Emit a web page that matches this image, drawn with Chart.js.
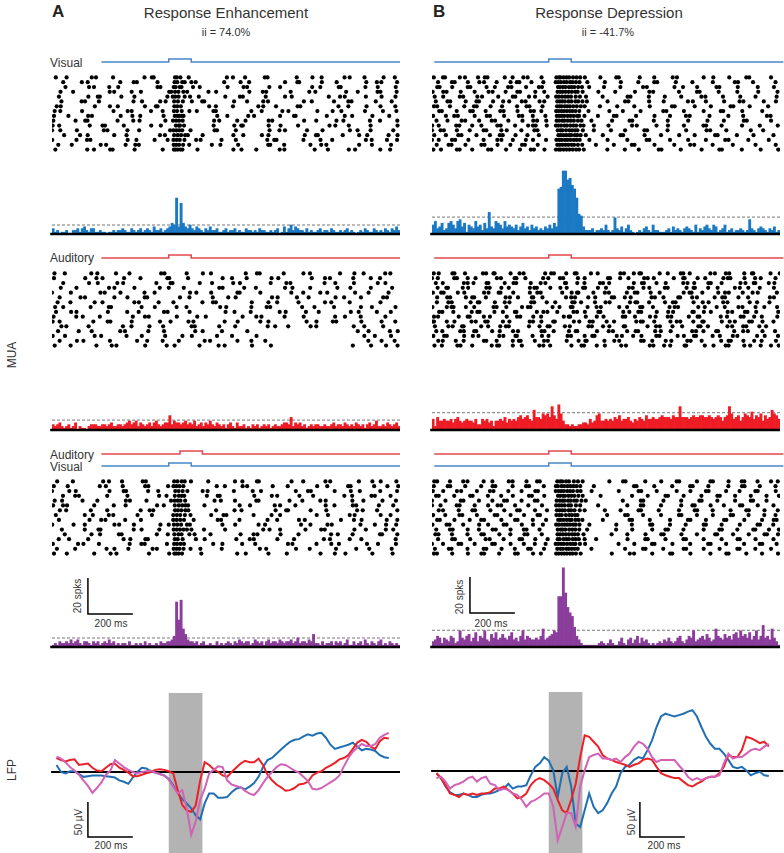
<!DOCTYPE html>
<html>
<head>
<meta charset="utf-8">
<script src="https://cdn.jsdelivr.net/npm/chart.js@4.4.1/dist/chart.umd.min.js"></script>
<style>
  html, body { margin: 0; padding: 0; background: #fff; }
  #fig { position: relative; width: 784px; height: 853px; overflow: hidden;
         font-family: "Liberation Sans", Arial, sans-serif; color: #333; }
  #fig canvas { position: absolute; }
  .t { position: absolute; white-space: nowrap; line-height: 1; }
  .c { transform: translateX(-50%); }
  .r { transform: translate(-50%, -50%) rotate(-90deg); }
</style>
</head>
<body>
<div id="fig">
  <div class="t" style="left:52px;top:3px;font-size:17px;font-weight:bold;color:#222">A</div>
  <div class="t" style="left:433px;top:3px;font-size:17px;font-weight:bold;color:#222">B</div>
  <div class="t c" style="left:226px;top:5px;font-size:15px">Response Enhancement</div>
  <div class="t c" style="left:609px;top:5px;font-size:15px">Response Depression</div>
  <div class="t c" style="left:226px;top:27px;font-size:11px">ii = 74.0%</div>
  <div class="t c" style="left:608px;top:27px;font-size:11px">ii = -41.7%</div>
  <div class="t" style="left:50px;top:57px;font-size:12px">Visual</div>
  <div class="t" style="left:50px;top:252px;font-size:12px">Auditory</div>
  <div class="t" style="left:50px;top:449px;font-size:12px">Auditory</div>
  <div class="t" style="left:50px;top:461px;font-size:12px">Visual</div>
  <div class="t r" style="left:12px;top:355px;font-size:12px">MUA</div>
  <div class="t r" style="left:12px;top:770px;font-size:12px">LFP</div>
  <div class="t r" style="left:78px;top:596px;font-size:10px">20 spks</div>
  <div class="t r" style="left:460px;top:597px;font-size:10px">20 spks</div>
  <div class="t c" style="left:111px;top:619px;font-size:10px">200 ms</div>
  <div class="t c" style="left:491px;top:619px;font-size:10px">200 ms</div>
  <div class="t r" style="left:79px;top:822px;font-size:10px">50 µV</div>
  <div class="t r" style="left:632px;top:822px;font-size:10px">50 µV</div>
  <div class="t c" style="left:111px;top:841px;font-size:10px">200 ms</div>
  <div class="t c" style="left:664px;top:841px;font-size:10px">200 ms</div>
</div>
<script>
// ---------------- data ----------------
// time axis (ms), stimulus onset at 0
const T_MIN = -520, T_MAX = 1030;
const BIN_MS = 10;

const visualStim = [0, 100];
const auditoryStim = [0, 100];
const auditoryStimCombinedA = [50, 150];
const lfpWindow = [0, 150];

// order in which the recorded trials are stacked in each raster (top to bottom)
const trialOrder = [0, 7, 3, 10, 5, 1, 8, 11, 4, 9, 2, 6, 12, 13, 14, 15];

// spike rasters: one string per trial, spike times in ms
const rasterVisualA = [
  '-503 -455 -343 -324 -248 -108 -75 -67 28 36 52 89 259 286 340 428 440 570 640 681 783 806 872 957 1007',
  '-478 -388 -373 -311 -157 -119 -38 -14 24 41 63 103 149 158 291 349 421 442 602 637 736 800 814 922 993',
  '-517 -488 -352 -295 -284 -200 -78 -35 32 45 50 68 200 292 323 330 445 498 576 716 742 802 899 1019',
  '-460 -355 -333 -265 -225 -50 -37 22 31 49 57 108 138 262 333 349 448 496 639 675 757 766 876 931 1011',
  '-511 -447 -359 -342 -214 -162 -127 -23 27 39 48 58 66 216 261 354 380 496 558 565 704 784 817 907 982',
  '-489 -358 -316 -307 -211 -153 -6 18 29 44 71 95 134 252 317 330 432 518 548 713 763 784 878 948 1010',
  '-520 -483 -409 -289 -273 -184 -132 6 21 34 47 60 97 204 215 299 449 493 518 616 685 807 841 899 1000',
  '-470 -387 -361 -216 -156 -142 -50 26 38 60 71 101 120 247 320 358 518 573 581 682 748 880 927 947 1017',
  '-499 -481 -329 -262 -227 -106 -57 -50 25 38 54 180 210 286 399 421 478 574 586 756 800 881 943 1009',
  '-514 -415 -372 -362 -228 -158 -130 -15 19 33 46 62 202 225 305 342 445 461 603 657 747 778 896 941 1018',
  '-482 -426 -263 -243 -165 -124 2 11 28 43 65 82 177 211 359 419 434 543 626 653 790 842 930 943 1015',
  '-508 -483 -386 -246 -183 -165 -79 -27 23 37 58 92 125 199 210 368 414 506 533 662 730 769 874 954 1014',
  '-466 -395 -361 -243 -188 -39 -17 24 40 55 73 85 151 288 332 415 444 606 656 664 775 848 884 979 1019',
  '-519 -411 -364 -349 -183 -144 -63 -5 21 35 49 70 122 142 235 299 439 470 480 600 676 728 878 904 972 1017',
  '-492 -432 -303 -279 -192 -149 -133 22 33 46 64 91 192 230 309 443 452 514 631 679 702 848 905 990',
  '-505 -363 -333 -261 -250 -152 -27 23 30 40 52 61 128 288 324 390 494 515 650 709 802 830 942 986',
];
const rasterVisualB = [
  '-512 -471 -462 -396 -373 -315 -285 -273 -196 -161 -113 -94 -32 34 45 52 66 79 91 108 124 140 161 230 301 312 405 470 552 571 690 733 804 880 893 990',
  '-503 -451 -439 -370 -322 -311 -248 -203 -176 -120 -103 -41 -20 38 49 60 72 88 101 119 131 150 170 262 340 355 447 512 620 642 700 781 850 867 958 1012',
  '-519 -490 -412 -398 -341 -300 -229 -214 -150 -92 -70 -58 -9 32 43 55 70 81 96 110 122 141 155 201 266 371 392 480 531 602 689 701 770 861 940 1020',
  '-497 -486 -430 -361 -349 -277 -240 -181 -166 -101 -44 -30 41 50 63 75 90 102 114 131 148 180 246 319 420 437 560 598 661 747 760 842 931 1003',
  '-515 -458 -421 -405 -330 -276 -262 -199 -133 -118 -71 -15 36 47 58 69 84 97 111 126 135 159 219 290 302 389 471 540 611 628 716 800 866 972 988',
  '-508 -470 -396 -381 -318 -297 -225 -160 -149 -88 -61 -5 33 45 59 73 86 99 120 139 166 240 351 364 446 517 590 680 698 776 853 921 1015',
  '-520 -482 -467 -409 -352 -290 -278 -211 -187 -122 -64 -50 40 52 61 77 92 104 117 128 152 201 277 340 426 438 529 612 703 719 791 900 955',
  '-493 -431 -419 -360 -309 -288 -232 -170 -142 -131 -77 -24 31 42 54 68 80 95 106 121 137 172 250 321 399 470 483 566 640 731 829 843 910 1010',
  '-511 -497 -440 -376 -333 -321 -259 -208 -141 -99 -86 -28 37 48 57 71 82 94 109 125 143 160 228 305 381 450 549 561 650 722 810 822 895 977',
  '-500 -451 -388 -372 -310 -254 -239 -180 -117 -69 -52 -11 35 46 60 70 85 98 112 130 146 190 282 360 372 468 530 621 707 780 869 882 990',
  '-517 -470 -455 -392 -330 -268 -250 -192 -140 -128 -60 -20 39 51 62 75 89 103 118 129 151 221 296 384 448 465 580 660 672 757 840 933 1019',
  '-488 -476 -410 -350 -338 -281 -216 -201 -139 -81 -66 -33 33 44 56 67 80 93 105 119 136 177 270 330 409 510 524 602 690 766 777 862 951',
  '-510 -458 -403 -389 -322 -262 -218 -205 -148 -95 -44 43 54 66 78 91 100 116 127 142 165 241 320 331 427 500 581 650 741 752 838 912 1001',
  '-520 -490 -431 -417 -358 -290 -229 -211 -160 -102 -70 -12 34 47 58 72 83 96 111 124 138 181 262 350 436 448 540 621 700 786 801 889 980',
  '-499 -446 -433 -371 -300 -286 -228 -171 -119 -106 -49 38 49 61 74 87 101 113 130 149 210 290 370 382 471 559 630 648 730 820 921 1011',
  '-514 -480 -409 -397 -341 -270 -256 -190 -128 -80 -66 -19 32 45 53 66 79 92 107 122 135 156 261 339 401 490 502 588 681 760 771 860 944 1022',
];
const rasterAuditoryA = [
  '-509 -463 -345 -318 -235 -175 -34 -19 80 152 188 343 393 405 512 600 629 763 827 868 964 987',
  '-486 -393 -373 -242 -184 -107 -96 50 92 196 265 298 460 485 571 623 743 781 856 955 972',
  '-517 -486 -336 -272 -260 -165 -39 8 88 110 249 307 408 444 614 658 731 746 858 948 1009',
  '-470 -355 -316 -229 -203 -55 8 17 138 193 287 317 454 524 542 694 742 825 931 965',
  '-502 -435 -411 -271 -185 -134 -21 -5 93 253 293 365 494 521 611 668 811 846 927 989',
  '-520 -436 -304 -285 -215 -108 -63 95 123 189 306 316 408 546 599 675 706 830 890 979',
  '-478 -456 -357 -204 -166 -86 -25 102 116 225 296 441 474 532 632 657 824 871 955',
  '-511 -372 -322 -295 -199 -126 -6 2 86 240 282 347 458 488 637 696 718 822 900 941',
  '-495 -438 -330 -295 -153 -133 -45 21 150 197 210 370 444 483 578 696 724 806 943',
  '-513 -412 -383 -307 -160 -106 -89 36 127 165 329 390 413 516 601 741 785 855 965',
  '-481 -411 -266 -242 -153 -40 0 67 225 240 336 388 518 551 630 751 809 900 995',
  '-506 -470 -348 -267 -257 -121 -62 35 79 229 256 368 436 452 594 649 736 856 905 1010',
  '-493 -401 -343 -216 -195 -91 -21 118 151 237 350 842 890 985 1020',
  '-517 -462 -330 -301 -188 -120 -16 61 103 215 282 391 871 918 990',
  '-486 -409 -380 -262 -141 -96 -27 45 160 184 306 368 430 889 948 1006',
  '-508 -437 -322 -254 -233 -105 -9 26 137 222 249 371 455 820 901 968 1019',
];
const rasterAuditoryB = [
  '-512 -490 -429 -420 -373 -293 -279 -246 -241 -170 -130 -112 -16 11 23 78 116 124 188 218 319 335 379 404 411 494 530 588 599 628 720 740 789 804 871 905 911 988 1029',
  '-497 -452 -439 -369 -341 -332 -280 -192 -173 -137 -75 -69 -28 77 100 117 176 207 281 291 339 365 458 473 511 577 585 639 660 739 773 785 845 888 985 1003',
  '-519 -511 -454 -420 -344 -325 -283 -272 -204 -175 -85 -70 -33 20 27 112 136 182 196 258 291 390 410 419 470 542 570 586 644 684 690 771 806 829 893 905 952 1001',
  '-503 -472 -378 -361 -335 -277 -269 -196 -157 -145 -80 -36 -15 72 77 127 159 228 242 269 379 415 424 480 521 599 618 648 711 722 770 854 876 913 920 980 1005',
  '-488 -474 -425 -343 -318 -308 -242 -204 -151 -144 -53 -24 -6 38 110 126 161 221 230 332 359 399 412 481 532 554 640 646 691 722 797 817 874 885 924 1022',
  '-516 -479 -468 -405 -376 -288 -268 -223 -215 -158 -84 -51 -36 60 102 126 132 199 250 268 348 383 395 454 494 601 627 636 684 755 785 802 864 908 931 1016',
  '-507 -447 -428 -386 -379 -301 -270 -216 -191 -178 -88 -41 -5 4 72 94 177 192 242 270 334 340 440 478 495 551 594 666 676 709 796 817 866 880 938 968',
  '-520 -494 -421 -409 -361 -326 -231 -213 -152 -144 -104 -25 -2 50 64 130 160 264 273 318 355 425 441 468 557 599 605 663 697 778 798 809 872 919 944 1010',
  '-498 -447 -432 -348 -316 -309 -240 -196 -175 -78 -65 -9 29 105 115 144 206 253 271 362 386 394 447 518 553 565 645 686 712 777 796 895 928 983',
  '-511 -493 -401 -361 -352 -289 -262 -187 -141 -127 -69 -34 67 89 95 165 214 244 330 341 384 451 476 530 546 624 663 671 766 794 855 868 915 949 1018',
  '-495 -456 -449 -383 -359 -278 -263 -211 -178 -84 -64 -53 7 52 80 153 162 219 255 357 374 422 448 517 530 614 645 651 710 752 829 851 889 940 1003',
  '-518 -454 -433 -424 -369 -332 -246 -232 -189 -119 -93 -81 17 48 98 106 173 213 232 314 349 407 417 464 538 561 576 666 695 748 784 845 863 921 960 1017',
  '-501 -474 -394 -378 -332 -323 -252 -218 -159 -137 -32 -19 22 90 120 127 215 267 286 349 387 398 474 499 543 639 656 689 746 754 826 866 887 952 1008',
  '-514 -466 -454 -377 -338 -313 -220 -202 -148 -142 -72 -30 -1 84 99 160 194 204 303 326 376 413 479 493 574 602 647 656 730 762 820 840 928 962 1021',
  '-492 -472 -414 -379 -289 -278 -232 -160 -133 -125 -62 -21 -4 80 133 163 169 248 292 314 411 423 461 521 546 617 632 681 768 801 811 867 915 948 1012',
  '-509 -476 -407 -393 -341 -254 -230 -221 -160 -120 -42 -24 6 101 146 157 214 250 323 344 450 466 514 541 605 612 695 734 788 801 871 897 944 990 1024',
];
const rasterCombinedA = [
  '-497 -427 -292 -266 -208 -116 -102 24 39 58 71 99 176 295 328 393 401 547 599 698 719 847 907 944 1014',
  '-515 -471 -453 -332 -245 -192 -52 -22 27 45 60 74 86 159 316 362 472 496 564 699 738 820 835 936 1000',
  '-476 -374 -313 -304 -156 -121 -42 22 36 50 66 81 101 157 251 421 449 496 609 679 695 827 878 967 1000',
  '-520 -443 -414 -264 -201 -190 -92 -47 29 44 62 83 151 173 290 374 411 566 620 633 739 811 851 942 1017',
  '-489 -353 -301 -282 -194 -124 20 35 51 68 111 218 233 315 440 483 580 606 767 825 859 971 1018',
  '-508 -475 -384 -318 -191 -173 -99 10 26 40 52 73 204 232 295 390 400 538 595 675 699 818 867 952 1012',
  '-463 -344 -306 -222 -210 -53 -4 25 43 57 92 115 186 320 378 395 498 578 723 753 819 941 950 1018',
  '-512 -450 -307 -280 -205 -105 -91 -3 21 34 48 65 214 250 329 349 463 530 661 706 799 810 915 974 1022',
  '-485 -457 -347 -274 -125 -85 -69 28 41 56 74 87 211 293 324 476 523 531 632 702 839 864 928 1018',
  '-519 -424 -374 -242 -221 -155 -37 0 23 38 55 81 94 239 296 400 429 589 631 707 726 854 918 968 1013',
  '-471 -417 -400 -274 -184 -43 -10 27 45 58 69 170 218 227 381 459 483 582 643 782 817 903 918 988',
  '-503 -374 -338 -267 -247 -139 -75 20 36 51 72 97 189 244 257 378 458 496 659 709 806 828 944 988',
  '-490 -444 -359 -201 -171 -104 -93 27 40 62 121 160 301 361 379 484 558 691 718 806 858 1011',
  '-516 -404 -380 -311 -174 -122 -107 -8 24 37 53 68 198 239 327 385 531 551 658 724 758 883 932 1012',
  '-498 -417 -277 -242 -180 -72 -53 22 35 48 66 97 141 236 406 434 567 628 745 835 893 993',
  '-511 -454 -332 -259 -233 -88 2 25 33 44 59 145 305 343 444 526 676 740 787 907 997',
];
const rasterCombinedB = [
  '-510 -497 -440 -381 -362 -290 -251 -178 -161 -99 -52 -40 38 51 60 77 90 112 130 151 270 331 342 430 501 570 581 660 720 731 801 860 871 930 990 1020',
  '-520 -482 -410 -397 -330 -270 -228 -212 -150 -91 -30 33 46 58 71 88 99 121 140 220 350 410 421 500 590 640 650 721 780 852 862 931 1001',
  '-501 -440 -428 -361 -311 -250 -236 -170 -111 -99 -41 40 53 62 74 91 105 118 136 171 300 372 461 520 531 600 690 760 771 840 911 920 981 1025',
  '-516 -470 -409 -390 -320 -262 -246 -180 -121 -60 -48 31 44 55 67 82 95 108 127 142 191 312 400 412 481 570 631 700 712 790 850 920 931 1011',
  '-497 -485 -420 -352 -301 -288 -211 -150 -139 -71 -12 42 52 65 80 93 102 119 133 150 241 360 371 450 540 620 631 700 781 791 871 950 1002 1015',
  '-520 -460 -392 -380 -311 -251 -199 -186 -121 -62 -50 35 49 61 70 86 97 113 125 146 165 330 410 421 511 590 671 681 751 830 900 910 970',
  '-505 -491 -431 -362 -300 -289 -220 -171 -108 -95 -31 39 50 63 76 90 104 116 130 155 280 350 431 501 512 591 660 741 750 821 891 961 972 1021',
  '-512 -450 -439 -372 -301 -250 -238 -161 -101 -88 -22 32 41 57 69 84 97 110 123 140 201 380 391 470 550 630 641 711 800 861 872 940 1010',
  '-490 -471 -401 -340 -328 -260 -198 -141 -129 -61 -8 36 48 60 72 89 100 115 138 160 250 320 400 411 490 580 650 661 730 810 880 891 961 1020',
  '-518 -455 -442 -381 -310 -270 -201 -188 -120 -70 -26 33 45 59 71 83 95 109 120 137 181 301 370 452 461 540 610 690 700 770 851 930 941 1000',
  '-502 -490 -421 -350 -339 -271 -212 -160 -88 -75 -20 41 51 64 73 88 101 114 132 151 231 371 441 520 531 601 680 751 762 830 900 970 1025',
  '-515 -461 -398 -385 -320 -241 -229 -170 -110 -50 -39 34 47 58 76 91 103 117 128 260 340 352 420 500 580 591 660 731 810 821 890 960 1010',
  '-493 -430 -418 -350 -281 -263 -201 -130 -119 -60 -5 40 49 66 79 90 107 120 134 160 211 351 430 441 520 600 611 690 770 841 851 921 1001',
  '-520 -471 -402 -390 -330 -252 -240 -170 -111 -62 -14 31 43 56 68 82 96 108 119 139 162 311 381 460 471 551 630 710 721 790 870 940 951 1015',
  '-507 -445 -433 -362 -290 -278 -210 -151 -92 -80 -21 38 52 63 78 89 102 115 129 190 340 420 431 510 601 612 690 761 840 850 920 990',
  '-511 -498 -430 -360 -300 -288 -221 -150 -138 -70 -35 33 44 57 69 81 94 106 121 142 281 361 380 461 541 550 631 720 791 801 880 950 1021',
];

// PSTH counts (spikes per 10 ms bin, from -520 ms)
const psthVisualA =
  '3 1 2 0 1 1 2 0 0 2 2 3 1 3 4 2 1 3 3 1 1 2 1 1 0 1 1 2 1 2 2 3 2 1 1 3 2 1 2 3 ' +
  '1 2 3 2 1 4 2 2 3 1 2 3 4 6 5 20 4 17 6 4 3 5 3 2 4 3 2 1 3 2 4 2 2 3 1 1 2 3 1 2 ' +
  '2 3 1 2 1 1 3 2 2 1 2 1 3 2 2 1 1 2 1 2 3 0 1 4 1 3 5 2 4 3 2 2 1 3 1 2 1 1 2 3 ' +
  '1 2 2 1 3 2 1 1 2 1 2 3 1 2 1 0 1 2 1 3 2 1 1 3 2 1 2 1 3 2 1 3 2 4 2';
const psthVisualB =
  '5 7 3 4 6 2 3 6 7 5 3 7 8 4 6 1 5 4 3 7 4 5 2 6 3 12 4 3 7 6 5 3 7 4 5 4 3 5 2 4 ' +
  '6 3 4 2 5 3 4 2 3 2 4 3 5 3 6 4 25 26 35 35 30 31 27 25 20 11 10 4 2 2 2 3 1 2 2 3 2 5 2 1 ' +
  '2 9 3 2 4 1 3 5 2 1 0 1 2 1 3 4 2 1 5 2 2 1 1 1 2 3 1 4 2 3 2 1 3 4 3 2 1 5 1 3 ' +
  '2 4 5 3 2 5 4 1 2 3 5 1 2 3 1 2 2 3 2 1 2 8 3 2 1 3 4 3 2 1 3 2 4 1 2';
const psthAuditoryA =
  '3 2 3 4 2 1 2 3 1 2 4 0 2 1 1 0 2 3 3 3 2 2 3 3 2 3 4 2 2 3 3 2 3 4 5 3 4 5 2 4 ' +
  '3 2 3 4 2 4 5 3 2 3 4 4 8 3 5 4 4 3 4 5 3 4 3 5 2 3 4 2 4 3 5 3 2 4 3 2 3 1 3 4 ' +
  '2 1 4 2 2 3 1 2 1 3 2 3 1 2 3 2 3 1 2 3 2 2 3 4 4 3 7 2 4 3 4 2 3 1 2 3 2 3 3 2 ' +
  '2 3 2 2 3 4 2 3 3 2 4 3 2 3 2 4 3 2 3 1 3 4 2 3 5 2 2 3 2 4 3 2 3 4 2';
const psthAuditoryB =
  '6 2 7 5 5 6 5 5 6 4 6 7 5 4 5 6 5 5 4 6 3 3 6 5 6 4 5 2 5 5 6 5 7 4 6 5 6 5 7 8 ' +
  '6 7 8 6 5 11 7 7 6 9 8 9 7 13 8 6 14 9 5 3 3 2 3 2 2 3 3 4 4 3 6 4 5 8 9 5 5 6 5 6 ' +
  '5 7 6 8 5 6 6 7 5 4 6 5 7 6 5 8 6 6 7 6 6 7 8 7 7 7 6 8 7 7 13 7 7 7 6 7 8 7 7 8 ' +
  '8 7 7 8 7 6 7 8 7 5 7 8 13 9 6 7 8 5 7 9 8 7 10 6 8 7 9 5 8 6 7 11 9 8 6';
const psthCombinedA =
  '1 2 1 3 2 2 3 2 4 2 3 4 2 1 3 3 2 1 3 2 3 1 2 3 2 4 2 3 1 2 1 2 2 1 3 1 1 2 1 2 ' +
  '1 3 1 2 1 1 2 1 3 2 2 3 3 4 6 25 15 26 10 7 4 3 3 2 3 1 2 3 1 1 2 1 1 3 1 2 1 2 3 2 ' +
  '1 3 2 4 3 2 3 3 1 2 4 3 2 3 1 3 4 2 3 3 2 4 3 2 3 3 4 2 3 5 2 3 3 2 4 3 7 2 2 1 ' +
  '3 1 2 2 3 1 3 2 3 1 2 4 1 1 3 1 2 3 1 4 2 1 3 2 1 3 4 1 2 1 3 2 1 2 1';
const psthCombinedB =
  '3 4 6 5 2 5 4 3 6 5 2 3 9 5 4 6 7 3 5 8 3 6 5 9 4 3 7 5 8 4 5 7 5 4 6 8 4 5 3 6 ' +
  '9 4 6 5 4 4 5 4 6 10 4 5 6 7 9 8 28 28 44 30 22 19 17 11 6 4 2 1 1 1 1 1 1 1 2 3 2 1 2 4 ' +
  '2 1 1 3 5 2 1 4 5 2 4 6 2 5 3 4 2 1 2 1 2 3 2 4 3 5 3 2 3 5 6 3 2 4 6 5 9 3 4 5 ' +
  '6 4 7 5 3 4 10 6 5 4 7 5 6 4 7 8 5 9 6 7 5 8 4 6 9 4 6 12 5 6 4 10 5 3 1';

// mean + 2 SD criterion lines (spikes per bin), [A, B]
const thrVisual = [5, 9.4];
const thrAuditory = [5.5, 9.6];
const thrCombined = [5, 9.3];

// LFP (µV), sampled every 20 ms from -500 ms
const LFP_T0 = -500, LFP_STEP = 20;
const lfpVisualA = [10,0,-2,1,1,-3,-7,-6,-5,-5,-5,-6,-7,-8,-12,-14,-17,-8,0,6,5,1,-1,-3,-5,-10,-19,-30,-39,-45,
  -52,-62,-68,-45,-31,-31,-37,-37,-36,-29,-24,-22,-25,-21,-16,-7,7,17,20,26,32,38,43,46,47,51,54,52,55,56,
  49,39,33,35,37,39,42,36,31,33,32,30,24,21,20];
const lfpAuditoryA = [20,17,15,17,18,10,11,12,6,2,1,6,11,12,6,3,-1,-6,-6,-4,-2,0,3,4,3,1,-2,-26,-47,-55,
  -57,-48,-12,14,10,4,0,-5,-7,0,6,12,16,14,14,19,10,-4,-12,-18,-22,-27,-26,-23,-18,-17,-14,-5,-1,1,
  6,9,13,18,20,24,33,42,46,43,36,33,44,49,48];
const lfpCombinedA = [22,19,14,7,2,-4,-12,-20,-30,-23,-15,-4,2,17,12,7,3,0,-2,0,1,2,-1,-3,-5,-11,-21,-31,-26,-52,
  -90,-71,-40,-24,-2,3,8,7,-12,-18,-20,-22,-27,-31,-33,-26,-16,-7,0,7,11,10,6,2,-1,-7,-13,-24,-25,-23,
  -19,-15,-11,-5,8,20,29,35,40,37,37,40,49,53,56];
const lfpVisualB = [-3,-10,-22,-30,-34,-34,-32,-34,-37,-37,-34,-32,-32,-30,-27,-25,-18,-25,-22,-22,-20,-6,6,11,20,15,1,-37,-3,6,
  -22,-75,-80,-56,-32,-51,-60,-56,-46,-32,-22,-3,6,9,16,20,18,30,44,63,78,82,80,78,80,82,85,87,78,63,
  49,39,32,32,25,16,6,4,6,1,-6,-3,-1,-6,-7];
const lfpAuditoryB = [-3,-10,-20,-32,-34,-37,-32,-34,-32,-34,-32,-32,-30,-25,-25,-22,-27,-32,-39,-37,-32,-20,-13,-10,-13,-18,-25,-41,-56,-60,
  -41,-18,20,51,49,42,35,23,18,16,13,11,9,6,9,11,16,18,16,6,-3,-6,-8,-10,-10,-15,-20,-22,-18,-15,
  -10,-8,-8,-3,6,23,20,20,30,49,47,44,40,42,35];
const lfpCombinedB = [-10,-8,-15,-25,-20,-18,-15,-10,-8,-15,-10,-8,-18,-20,-27,-25,-27,-32,-34,-41,-51,-44,-41,-37,-32,-32,-51,-99,-80,-60,
  -60,-80,-22,1,20,23,25,18,18,16,18,13,20,25,35,42,39,32,20,13,16,16,16,16,8,1,-8,-13,-10,-13,
  -10,-8,-8,-6,11,25,18,20,20,25,30,32,30,35,39];

// scale bars
const SCALE_MS = 200, SCALE_SPKS = 20, SCALE_UV = 50;

// ---------------- layout / style ----------------
const COL_LEFT = [52, 432], COL_WIDTH = 348, PAD = 6;
const BLUE = '#1b79c4', RED = '#ee1c25', PURPLE = '#8b3d9c';
const STIM_BLUE = '#4a86c8', STIM_RED = '#e2474d';
const LFP_BLUE = '#1f6fb2', LFP_RED = '#ec2027', LFP_PINK = '#d162b5';
const PX_PER_SPK = 1.8, PSTH_MAX = 45;

const fig = document.getElementById('fig');

function addChart(left, top, width, height, config) {
  const cv = document.createElement('canvas');
  cv.width = width + 2 * PAD;
  cv.height = height + 2 * PAD;
  cv.style.left = (left - PAD) + 'px';
  cv.style.top = (top - PAD) + 'px';
  cv.style.width = cv.width + 'px';
  cv.style.height = cv.height + 'px';
  fig.appendChild(cv);
  config.options = Object.assign({
    responsive: false,
    animation: false,
    devicePixelRatio: 1,
    events: [],
    layout: { padding: PAD },
    plugins: { legend: { display: false }, tooltip: { enabled: false } },
  }, config.options || {});
  return new Chart(cv, config);
}

const xScale = () => ({ type: 'linear', min: T_MIN, max: T_MAX, display: false, offset: false });

function stepLine(start, end, stim, base, up) {
  return [
    { x: start, y: base }, { x: stim[0], y: base }, { x: stim[0], y: up },
    { x: stim[1], y: up }, { x: stim[1], y: base }, { x: end, y: base },
  ];
}

function drawStim(col, top, height, yMax, traces) {
  const start = col === 0 ? -300 : -510;
  const end = col === 0 ? T_MAX : 1045;
  addChart(COL_LEFT[col], top, COL_WIDTH, height, {
    type: 'line',
    data: {
      datasets: traces.map(tr => ({
        data: stepLine(start, end, tr.stim, tr.base, tr.base + 1),
        borderColor: tr.color, borderWidth: 1.5, pointRadius: 0, clip: false,
      })),
    },
    options: { scales: { x: xScale(), y: { display: false, min: 0, max: yMax } } },
  });
}

function drawRaster(col, top, rows) {
  const pts = [];
  trialOrder.forEach((trial, pos) => {
    rows[trial].split(' ').forEach(v => pts.push({ x: Number(v), y: pos }));
  });
  addChart(COL_LEFT[col], top, COL_WIDTH, 77, {
    type: 'scatter',
    data: { datasets: [{ data: pts, pointRadius: 2.1, pointBackgroundColor: '#000', pointBorderWidth: 0 }] },
    options: { scales: { x: xScale(), y: { display: false, min: -0.5, max: rows.length - 0.5, reverse: true } } },
  });
}

function drawPsth(col, baseline, counts, thr, color, bar) {
  const h = PSTH_MAX * PX_PER_SPK;
  const bins = counts.trim().split(/\s+/).map((v, i) => ({ x: T_MIN + BIN_MS / 2 + i * BIN_MS, y: Number(v) }));
  const datasets = [
    { type: 'line', data: [{ x: T_MIN - 8, y: 0 }, { x: T_MAX, y: 0 }], borderColor: '#000', borderWidth: 2.5,
      pointRadius: 0, clip: false, order: 0 },
    { type: 'bar', data: bins, backgroundColor: color, borderWidth: 0, barPercentage: 1, categoryPercentage: 1, order: 1 },
    { type: 'line', data: [{ x: T_MIN, y: thr }, { x: T_MAX, y: thr }], borderColor: '#777', borderWidth: 1,
      borderDash: [3, 2], pointRadius: 0, order: 2 },
  ];
  if (bar) {
    datasets.push({ type: 'line', order: 0, clip: false, pointRadius: 0, borderColor: '#000', borderWidth: 1.5,
      data: [{ x: bar[0], y: bar[1] + SCALE_SPKS }, { x: bar[0], y: bar[1] }, { x: bar[0] + SCALE_MS, y: bar[1] }] });
  }
  addChart(COL_LEFT[col], baseline - h, COL_WIDTH, h, {
    type: 'bar',
    data: { datasets },
    options: { scales: { x: xScale(), y: { display: false, min: 0, max: PSTH_MAX } } },
  });
}

const grayWindow = {
  id: 'grayWindow',
  beforeDatasetsDraw(chart) {
    const { ctx, chartArea, scales } = chart;
    const x0 = scales.x.getPixelForValue(lfpWindow[0]);
    const x1 = scales.x.getPixelForValue(lfpWindow[1]);
    ctx.save();
    ctx.fillStyle = '#b3b3b3';
    ctx.fillRect(x0, chartArea.top, x1 - x0, chartArea.bottom - chartArea.top);
    ctx.restore();
  },
};

function drawLfp(col, top, height, yMin, yMax, traces, bar) {
  const line = (vals, color) => ({
    data: vals.map((v, i) => ({ x: LFP_T0 + i * LFP_STEP, y: v })),
    borderColor: color, borderWidth: 2, pointRadius: 0, tension: 0,
  });
  const datasets = [
    { data: [{ x: T_MIN - 4, y: 0 }, { x: col === 0 ? T_MAX : 1045, y: 0 }], borderColor: '#000', borderWidth: 2,
      pointRadius: 0, clip: false, order: 5 },
    Object.assign(line(traces[0], LFP_BLUE), { order: 4 }),
    Object.assign(line(traces[1], LFP_RED), { order: 3 }),
    Object.assign(line(traces[2], LFP_PINK), { order: 2 }),
    { data: [{ x: bar[0], y: bar[1] + SCALE_UV }, { x: bar[0], y: bar[1] }, { x: bar[0] + SCALE_MS, y: bar[1] }],
      borderColor: '#000', borderWidth: 1.5, pointRadius: 0, clip: false, order: 0 },
  ];
  addChart(COL_LEFT[col], top, COL_WIDTH, height, {
    type: 'line',
    data: { datasets },
    options: { scales: { x: xScale(), y: { display: false, min: yMin, max: yMax } } },
    plugins: [grayWindow],
  });
}

// ---------------- column A ----------------
drawStim(0, 59, 3, 1, [{ stim: visualStim, base: 0, color: STIM_BLUE }]);
drawRaster(0, 75, rasterVisualA);
drawPsth(0, 234, psthVisualA, thrVisual[0], BLUE);
drawStim(0, 255, 3, 1, [{ stim: auditoryStim, base: 0, color: STIM_RED }]);
drawRaster(0, 271, rasterAuditoryA);
drawPsth(0, 430, psthAuditoryA, thrAuditory[0], RED);
drawStim(0, 451, 15, 5, [
  { stim: auditoryStimCombinedA, base: 4, color: STIM_RED },
  { stim: visualStim, base: 0, color: STIM_BLUE },
]);
drawRaster(0, 479, rasterCombinedA);
drawPsth(0, 647, psthCombinedA, thrCombined[0], PURPLE, [-360, 18.3]);
drawLfp(0, 693, 160, -116, 113, [lfpVisualA, lfpAuditoryA, lfpCombinedA], [-360, -93]);

// ---------------- column B ----------------
drawStim(1, 59, 3, 1, [{ stim: visualStim, base: 0, color: STIM_BLUE }]);
drawRaster(1, 75, rasterVisualB);
drawPsth(1, 234, psthVisualB, thrVisual[1], BLUE);
drawStim(1, 255, 3, 1, [{ stim: auditoryStim, base: 0, color: STIM_RED }]);
drawRaster(1, 271, rasterAuditoryB);
drawPsth(1, 430, psthAuditoryB, thrAuditory[1], RED);
drawStim(1, 451, 15, 5, [
  { stim: auditoryStim, base: 4, color: STIM_RED },
  { stim: visualStim, base: 0, color: STIM_BLUE },
]);
drawRaster(1, 479, rasterCombinedB);
drawPsth(1, 647, psthCombinedB, thrCombined[1], PURPLE, [-351, 18.9]);
drawLfp(1, 692, 161, -117, 113, [lfpVisualB, lfpAuditoryB, lfpCombinedB], [406, -94]);
</script>
</body>
</html>
